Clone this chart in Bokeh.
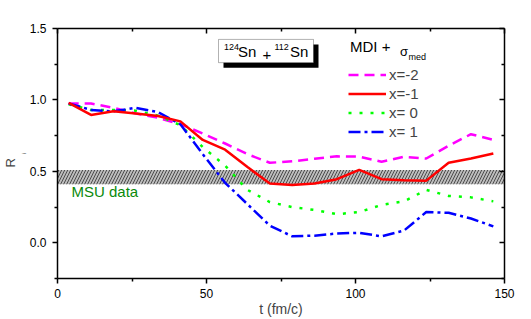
import math
from bokeh.plotting import figure
from bokeh.models import (Label, BoxAnnotation, Legend, LegendItem, LinearAxis, Title,
                          FixedTicker, CustomJSTickFormatter, PrintfTickFormatter,
                          Range1d, ColumnDataSource)
from bokeh.embed import file_html
from bokeh.resources import INLINE

# ---- data ----
t = [3.75, 11.25, 18.75, 26.25, 33.75, 41.25, 48.75, 56.25, 63.75, 71.25,
     78.75, 86.25, 93.75, 101.25, 108.75, 116.25, 123.75, 131.25, 138.75, 146.25]
r_xm2 = [0.975, 0.975, 0.945, 0.905, 0.875, 0.83, 0.765, 0.695, 0.62, 0.56,
         0.57, 0.588, 0.605, 0.603, 0.567, 0.602, 0.59, 0.68, 0.76, 0.72]
r_xm1 = [0.98, 0.895, 0.92, 0.905, 0.888, 0.85, 0.72, 0.652, 0.53, 0.415,
         0.405, 0.415, 0.445, 0.51, 0.445, 0.437, 0.435, 0.56, 0.59, 0.625]
r_x0 = [0.97, 0.93, 0.93, 0.925, 0.89, 0.823, 0.67, 0.54, 0.37, 0.285,
        0.25, 0.23, 0.20, 0.215, 0.265, 0.29, 0.37, 0.328, 0.318, 0.29]
r_x1 = [0.975, 0.93, 0.92, 0.945, 0.915, 0.83, 0.62, 0.42, 0.27, 0.12,
        0.045, 0.05, 0.065, 0.07, 0.045, 0.085, 0.215, 0.21, 0.17, 0.115]
series_labels = ["x=-2", "x=-1", "x= 0", "x= 1"]
msu_lo, msu_hi = 0.41, 0.51
x_ticks = [0, 50, 100, 150]
x_minor = [25, 75, 125]
y_ticks = [0.0, 0.5, 1.0, 1.5]
y_minor = [-0.25, 0.25, 0.75, 1.25]

FONT = "Liberation Sans"

p = figure(width=531, height=319, x_range=Range1d(0, 150), y_range=Range1d(-0.25, 1.5),
           output_backend="svg", toolbar_location=None,
           min_border_left=57, min_border_right=27, min_border_top=28, min_border_bottom=40,
           x_axis_label="t (fm/c)", y_axis_label="i")
p.grid.visible = False
p.outline_line_color = None
p.background_fill_color = "white"

def style_axis(ax, outside, ticks, minor, show_labels):
    ax.ticker = FixedTicker(ticks=ticks, minor_ticks=minor)
    ax.axis_line_width = 1.5
    ax.major_tick_line_width = 1.5
    ax.minor_tick_line_width = 1.5
    if outside:
        ax.major_tick_out, ax.major_tick_in = 5, 0
        ax.minor_tick_out, ax.minor_tick_in = 3, 0
    else:
        ax.major_tick_out, ax.major_tick_in = 0, 5
        ax.minor_tick_out, ax.minor_tick_in = 0, 3
    ax.major_label_text_font = FONT
    ax.major_label_text_font_size = "12px"
    ax.major_label_text_color = "black"
    if not show_labels:
        ax.formatter = CustomJSTickFormatter(code="return ''")
        ax.major_label_standoff = 0

style_axis(p.xaxis[0], True, x_ticks, x_minor, True)
style_axis(p.yaxis[0], True, y_ticks, y_minor, True)
p.yaxis[0].formatter = PrintfTickFormatter(format="%.1f")
p.xaxis[0].major_label_standoff = 5
p.yaxis[0].major_label_standoff = 6
p.xaxis[0].axis_label_text_font = FONT
p.xaxis[0].axis_label_text_font_size = "14px"
p.xaxis[0].axis_label_text_font_style = "normal"
p.xaxis[0].axis_label_standoff = 0
# subscript "i" of R_i sits as the left axis label
p.yaxis[0].axis_label_text_font = FONT
p.yaxis[0].axis_label_text_font_size = "6px"
p.yaxis[0].axis_label_text_font_style = "normal"
p.yaxis[0].axis_label_standoff = 0

# main letter "R" of R_i
p.add_layout(Title(text="R", text_font=FONT, text_font_size="13px", text_font_style="normal",
                   align="left", offset=111, standoff=0), "left")

top_ax = LinearAxis()
right_ax = LinearAxis()
style_axis(top_ax, False, x_ticks, x_minor, False)
style_axis(right_ax, False, y_ticks, y_minor, False)
p.add_layout(top_ax, "above")
p.add_layout(right_ax, "right")

# MSU band
band = BoxAnnotation(bottom=msu_lo, top=msu_hi, fill_color="#bdbdbd", fill_alpha=1.0,
                     line_alpha=0, hatch_pattern="/", hatch_color="black",
                     hatch_scale=6, hatch_weight=0.6, level="underlay")
p.add_layout(band)

src = ColumnDataSource(dict(t=t, a=r_xm2, b=r_xm1, c=r_x0, d=r_x1))
l_m = p.line("t", "a", source=src, line_color="#ff00ff", line_width=2.5, line_dash="10 6")
l_g = p.line("t", "c", source=src, line_color="#00ff00", line_width=2.5, line_dash="3 8")
l_b = p.line("t", "d", source=src, line_color="#0000ff", line_width=2.5, line_dash="12 4 3 4")
l_r = p.line("t", "b", source=src, line_color="#ff0000", line_width=2.5)

legend = Legend(items=[LegendItem(label=series_labels[0], renderers=[l_m]),
                       LegendItem(label=series_labels[1], renderers=[l_r]),
                       LegendItem(label=series_labels[2], renderers=[l_g]),
                       LegendItem(label=series_labels[3], renderers=[l_b])],
                location=(291, 137), padding=0, margin=0, spacing=0,
                glyph_width=38, glyph_height=19, label_height=19, label_standoff=3,
                border_line_alpha=0, background_fill_alpha=0,
                label_text_font=FONT, label_text_font_size="15px")
p.add_layout(legend, "center")

def px2x(px):
    return (px - 57) / 2.98

def py2y(py):
    return (243 - py) / 143.3

def lab(text, px, py, size, color="black", **kw):
    p.add_layout(Label(x=px2x(px), y=py2y(py), text=text, text_font=FONT,
                       text_font_size=size, text_color=color, **kw))

# title box with shadow
p.add_layout(BoxAnnotation(left=px2x(223), right=px2x(318), top=py2y(44), bottom=py2y(67.5),
                           fill_color="black", fill_alpha=1.0, line_alpha=0, level="annotation"))
p.add_layout(BoxAnnotation(left=px2x(218), right=px2x(313), top=py2y(39), bottom=py2y(62.3),
                           fill_color="white", fill_alpha=1.0, line_color="black",
                           line_width=1, level="annotation"))
lab("124", 223.5, 50, "9px")
lab("Sn", 237.5, 59.3, "15px")
lab("+", 262, 59.3, "15px")
lab("112", 274, 50, "9px")
lab("Sn", 289.5, 59.3, "15px")

# legend title
lab("MDI +", 349.5, 55, "15px")
lab("\u03c3", 399.5, 58.5, "13px")
lab("med", 408, 62, "9px")

# MSU text
lab("MSU data", 71, 200, "15px", color="#0a8a0a")

open("out.html", "w").write(file_html(p, INLINE))
